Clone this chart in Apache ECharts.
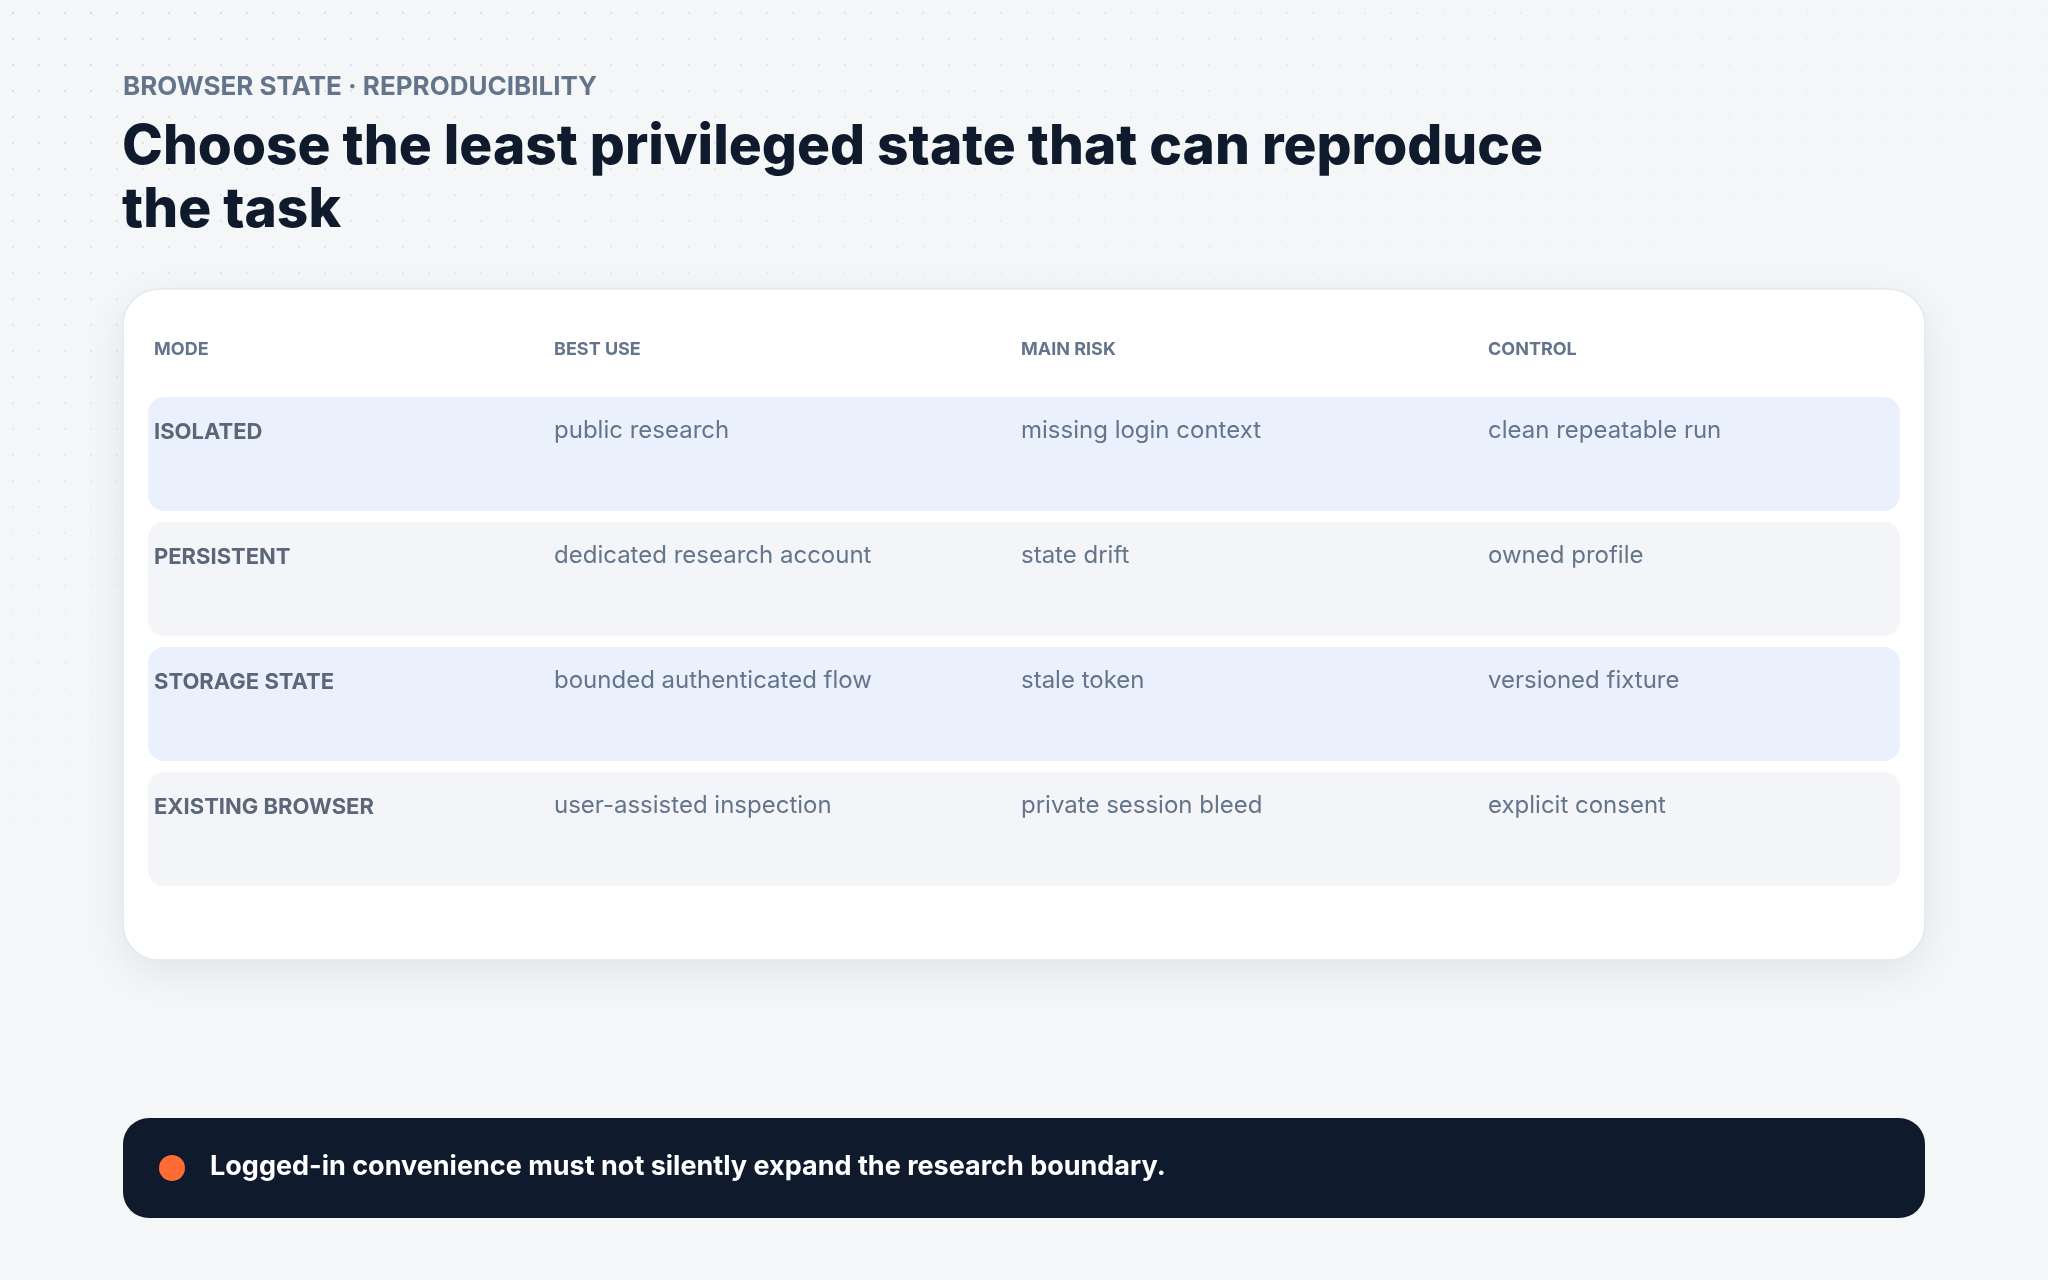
<!DOCTYPE html>
<html>
<head>
<meta charset="utf-8">
<title>Browser state</title>
<script src="https://cdn.jsdelivr.net/npm/echarts@6/dist/echarts.min.js"></script>
<style>
html,body{margin:0;padding:0;background:#f4f6f8;}
#bg{position:absolute;left:0;top:0;width:2048px;height:1280px;
 background-image:radial-gradient(circle,#d5dbe3 1.3px,transparent 1.6px);background-size:26px 26px;
 -webkit-mask-image:linear-gradient(160deg,rgba(0,0,0,.9) 0%,rgba(0,0,0,0) 45%);mask-image:linear-gradient(160deg,rgba(0,0,0,.9) 0%,rgba(0,0,0,0) 45%);}
#main{position:absolute;left:0;top:0;width:2048px;height:1280px;}
</style>
</head>
<body>
<div id="bg"></div>
<div id="main"></div>
<script>
var eyebrow = 'BROWSER STATE · REPRODUCIBILITY';
var titleLines = ['Choose the least privileged state that can reproduce', 'the task'];
var headers = ['MODE', 'BEST USE', 'MAIN RISK', 'CONTROL'];
var modes = ['ISOLATED', 'PERSISTENT', 'STORAGE STATE', 'EXISTING BROWSER'];
var bestUse = ['public research', 'dedicated research account', 'bounded authenticated flow', 'user-assisted inspection'];
var mainRisk = ['missing login context', 'state drift', 'stale token', 'private session bleed'];
var control = ['clean repeatable run', 'owned profile', 'versioned fixture', 'explicit consent'];
var footnote = 'Logged-in convenience must not silently expand the research boundary.';

var font = 'Inter, "Noto Sans", sans-serif';
var colX = [154, 554, 1021, 1488];
var els = [];

els.push({type:'text', left:123, top:74, style:{text:eyebrow, font:'700 26px '+font, fill:'#64748b', letterSpacing:6}});
titleLines.forEach(function(t,i){
  els.push({type:'text', left:122, top:120+i*63, style:{text:t, font:'800 55px '+font, fill:'#0f1b2d'}});
});
els.push({type:'rect', shape:{x:123,y:289,width:1802,height:671,r:36},
  style:{fill:'#fff', stroke:'#e2e8f0', lineWidth:1.5, shadowBlur:40, shadowOffsetY:12, shadowColor:'rgba(15,27,45,0.08)'}});
headers.forEach(function(h,i){
  els.push({type:'text', left:colX[i], top:341, style:{text:h, font:'700 18px '+font, fill:'#64748b', letterSpacing:1}});
});
modes.forEach(function(m,r){
  var top = 397 + r*125;
  els.push({type:'rect', shape:{x:148,y:top,width:1752,height:114,r:16}, style:{fill: r%2===0 ? '#eaf1fd' : '#f3f5f8'}});
  els.push({type:'text', left:colX[0], top:top+24, style:{text:m, font:'700 22px '+font, fill:'#5b6779'}});
  [bestUse, mainRisk, control].forEach(function(arr,c){
    els.push({type:'text', left:colX[c+1], top:top+22, style:{text:arr[r], font:'400 24px '+font, fill:'#64748b'}});
  });
});
els.push({type:'rect', shape:{x:123,y:1118,width:1802,height:100,r:26}, style:{fill:'#0f1b2d'}});
els.push({type:'circle', shape:{cx:172,cy:1168,r:13}, style:{fill:'#ff6b35'}});
els.push({type:'text', left:210, top:1153, style:{text:footnote, font:'700 27px '+font, fill:'#ffffff'}});

var chart = echarts.init(document.getElementById('main'));
chart.setOption({backgroundColor:'transparent', graphic:{elements:els}});
</script>
</body>
</html>
